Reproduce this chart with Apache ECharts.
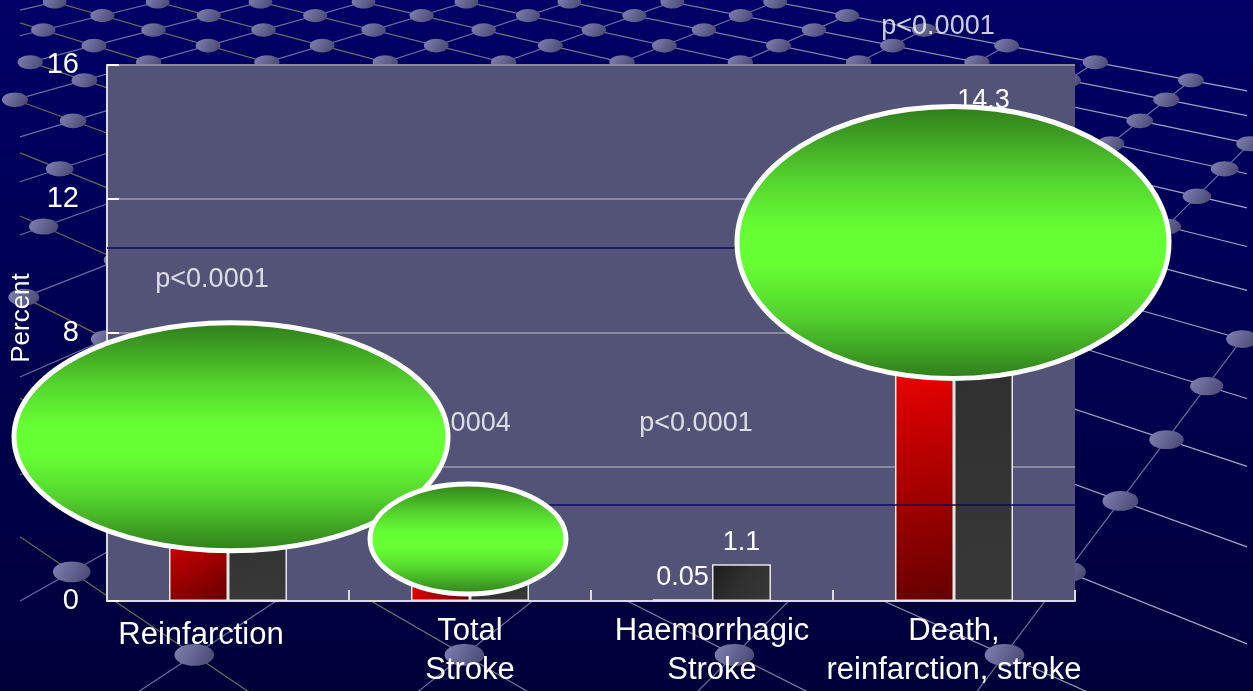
<!DOCTYPE html>
<html>
<head>
<meta charset="utf-8">
<script src="https://cdn.jsdelivr.net/npm/echarts@6/dist/echarts.min.js"></script>
<style>
  html, body { margin: 0; padding: 0; background: #000050; }
  #chart { width: 1253px; height: 691px; }
</style>
</head>
<body>
<div id="chart"></div>
<script>
// ---------- data ----------
const categories = ['Reinfarction', 'Total\nStroke', 'Haemorrhagic\nStroke', 'Death,\nreinfarction, stroke'];
const pciValues = [3, 1, 0.05, 8];          // red bars (mostly hidden in the picture)
const lysisValues = [7, 2, 1.1, 14.3];      // dark bars
const pValues = ['p<0.0001', 'p=0.0004', 'p<0.0001', 'p<0.0001'];
const yTicks = [0, 4, 8, 12, 16];

// ---------- layout / style constants ----------
const pLabelAt = [9.6, 5.3, 5.3, 17.15];      // axis value where each p label sits
const darkRuleAt = [10.55, 2.87];             // thin navy rules across the plot
const FONT = '"Liberation Sans", Arial, sans-serif';

const chart = echarts.init(document.getElementById('chart'), null, { renderer: 'canvas' });

const redFill = new echarts.graphic.LinearGradient(0, 0, 1, 1, [
  { offset: 0, color: '#ff0a0a' }, { offset: 0.3, color: '#d00000' }, { offset: 1, color: '#640000' }
]);
const darkFill = new echarts.graphic.LinearGradient(0, 0, 1, 1, [
  { offset: 0, color: '#1c1c1c' }, { offset: 0.5, color: '#303030' }, { offset: 1, color: '#383838' }
]);

chart.setOption({
  animation: false,
  grid: {
    left: 107, right: 178, top: 65, bottom: 90, containLabel: false, outerBoundsMode: 'none',
    show: true, backgroundColor: '#535378', borderWidth: 0
  },
  xAxis: {
    type: 'category',
    data: categories,
    axisLine: { lineStyle: { color: '#dcdcdc', width: 2 } },
    axisTick: { show: true, inside: true, length: 11, lineStyle: { color: '#dcdcdc', width: 2 } },
    axisLabel: {
      color: '#ffffff', fontSize: 31, fontFamily: FONT, lineHeight: 39, margin: 11, interval: 0,
      formatter: (v, i) => i === 0 ? '{s|' + v + '}' : v,
      rich: { s: { color: '#ffffff', fontSize: 31, fontFamily: FONT, lineHeight: 39, padding: [8, 54, 0, 0] } }
    },
    splitLine: { show: false }
  },
  yAxis: {
    type: 'value',
    min: yTicks[0], max: yTicks[yTicks.length - 1], interval: yTicks[1] - yTicks[0],
    name: 'Percent', nameLocation: 'middle', nameRotate: 90, nameGap: 72,
    nameTextStyle: { color: '#ffffff', fontSize: 26, fontFamily: FONT, padding: [0, 0, 0, 30] },
    axisLine: { show: true, lineStyle: { color: '#dcdcdc', width: 2 } },
    axisTick: { show: true, inside: true, length: 12, lineStyle: { color: '#ffffff', width: 2 } },
    axisLabel: { color: '#ffffff', fontSize: 29, fontFamily: FONT, margin: 28 },
    splitLine: { show: true, lineStyle: { color: '#8a8a9c', width: 2 } }
  },
  series: [
    {
      name: 'PCI', type: 'bar', data: pciValues, barWidth: 59, barGap: '0%', z: 3,
      itemStyle: { color: redFill, borderColor: '#e6e6e6', borderWidth: 1.5 },
      label: { show: true, position: 'top', distance: 8, color: '#ffffff', fontSize: 27, fontFamily: FONT }
    },
    {
      name: 'Thrombolysis', type: 'bar', data: lysisValues, barWidth: 59, z: 3,
      itemStyle: { color: darkFill, borderColor: '#e6e6e6', borderWidth: 1.5 },
      label: { show: true, position: 'top', distance: 8, color: '#ffffff', fontSize: 27, fontFamily: FONT }
    },
    {
      name: 'p', type: 'scatter', z: 1, clip: false, silent: true, symbolSize: 0,
      data: pLabelAt.map((v, i) => [i, v]),
      label: {
        show: true, position: 'inside', offset: [-16, 0], color: '#ffffff', fontSize: 27, fontFamily: FONT,
        formatter: p => pValues[p.dataIndex]
      },
      markLine: {
        silent: true, symbol: 'none', label: { show: false },
        lineStyle: { color: '#0a0a66', width: 1.5, type: 'solid' },
        data: darkRuleAt.map(v => ({ yAxis: v }))
      }
    }
  ]
});

// ---------- decorative background: perspective dotted lattice ----------
const W = 1253, H = 691;
const VPX = 174, HY = -400, K = 12343, S = 1580, R0 = 11.7, XOFF = 0.15, SHEAR = 0.028, IMAX = 15;
function proj(i, j) {
  const r = i + j, X = i - j + XOFF + SHEAR * r, d = r + R0;
  return [VPX + X * S / d, HY + K / d, d];
}
function clip(p, q, xmin, xmax, ymin, ymax) {
  let t0 = 0, t1 = 1;
  const dx = q[0] - p[0], dy = q[1] - p[1];
  const P = [-dx, dx, -dy, dy], Q = [p[0] - xmin, xmax - p[0], p[1] - ymin, ymax - p[1]];
  for (let k = 0; k < 4; k++) {
    if (P[k] === 0) { if (Q[k] < 0) return null; }
    else {
      const t = Q[k] / P[k];
      if (P[k] < 0) { if (t > t1) return null; if (t > t0) t0 = t; }
      else { if (t < t0) return null; if (t < t1) t1 = t; }
    }
  }
  return [[p[0] + t0 * dx, p[1] + t0 * dy], [p[0] + t1 * dx, p[1] + t1 * dy]];
}
const bg = [];
bg.push({
  type: 'rect', z: -20, silent: true, shape: { x: 0, y: 0, width: W, height: H },
  style: { fill: new echarts.graphic.LinearGradient(0, 0, 0, 1, [{ offset: 0, color: '#000066' }, { offset: 1, color: '#00003a' }]) }
});
const downRightStroke = new echarts.graphic.LinearGradient(0, 0, W, 0, [
  { offset: 0, color: '#6a6648' }, { offset: 0.55, color: '#7a7a9c' }, { offset: 1, color: '#a6a6c6' }
], true);
function addLine(a, b, stroke) {
  const c = clip(a, b, 20, 1247, -5, H + 5);
  if (!c) return;
  bg.push({ type: 'line', z: -15, silent: true,
    shape: { x1: c[0][0], y1: c[0][1], x2: c[1][0], y2: c[1][1] },
    style: { stroke: stroke, lineWidth: 1.2 } });
}
// lines with j constant (rise to the right)
for (let j = -30; j <= 50; j++) {
  const iA = Math.max(-60, -j - R0 + 1.2);
  if (iA >= IMAX) continue;
  addLine(proj(iA, j), proj(IMAX, j), '#6c6c9e');
}
// lines with i constant (fall to the right)
for (let i = -60; i <= IMAX; i++) {
  const jA = -i - R0 + 1.2, jB = 120;
  addLine(proj(i, jA), proj(i, jB), downRightStroke);
}
// dots at intersections
for (let i = -60; i <= IMAX; i++) {
  for (let j = -30; j <= 80; j++) {
    const p = proj(i, j);
    if (p[2] < 1.5) continue;
    if (p[0] < 12 || p[0] > W + 25 || p[1] < -20 || p[1] > H + 20) continue;
    const w = 14 + 300 / p[2];
    bg.push({ type: 'ellipse', z: -14, silent: true,
      shape: { cx: p[0], cy: p[1], rx: w / 2, ry: w * 0.55 / 2 },
      style: { fill: new echarts.graphic.LinearGradient(0, 0, 1, 1, [
        { offset: 0, color: '#8282b4' }, { offset: 1, color: '#45456e' }]) } });
  }
}

// ---------- green cover ellipses anchored to the axes ----------
const greenFill = new echarts.graphic.LinearGradient(0, 0, 0, 1, [
  { offset: 0, color: '#2e7a1b' }, { offset: 0.28, color: '#55d62e' }, { offset: 0.45, color: '#66ff33' },
  { offset: 0.58, color: '#66ff33' }, { offset: 0.75, color: '#55d62e' }, { offset: 1, color: '#2e7a1b' }
]);
const covers = [
  { cat: 0, val: 4.9, dx: 3, rx: 217, ry: 114 },
  { cat: 1, val: 1.85, dx: -2, rx: 98, ry: 55 },
  { cat: 3, val: 10.7, dx: -1, rx: 216, ry: 136 }
];
covers.forEach(c => {
  const pt = chart.convertToPixel({ gridIndex: 0 }, [c.cat, c.val]);
  bg.push({ type: 'ellipse', z: 100, silent: true,
    shape: { cx: pt[0] + c.dx, cy: pt[1], rx: c.rx, ry: c.ry },
    style: { fill: greenFill, stroke: '#ffffff', lineWidth: 5 } });
});

chart.setOption({ graphic: { elements: bg } });
</script>
</body>
</html>
